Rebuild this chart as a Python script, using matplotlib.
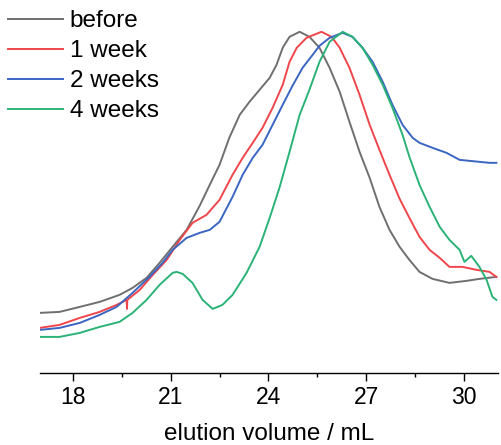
import matplotlib
matplotlib.use("Agg")
import matplotlib.pyplot as plt
from matplotlib.ticker import MultipleLocator

plt.rcParams["font.family"] = ["Liberation Sans", "DejaVu Sans"]

# elution volume (mL) and detector signal (a.u.)
vol_before = [16.98, 17.59, 18.21, 18.82, 19.43, 19.83, 20.26, 20.66, 21.06, 21.49,
              21.89, 22.20, 22.50, 22.80, 23.12, 23.42, 23.73, 24.04, 24.25, 24.44,
              24.65, 24.96, 25.26, 25.57, 25.88, 26.19, 26.49, 26.80, 27.11, 27.41,
              27.72, 28.03, 28.33, 28.64, 29.04, 29.56, 30.08, 30.48, 31.00]
sig_before = [60, 61, 66, 71, 78, 85, 95, 110, 126, 143,
              167, 188, 208, 235, 258, 271, 283, 295, 308, 325,
              336, 341, 336, 325, 305, 281, 251, 221, 195, 166,
              143, 126, 113, 101, 94, 90, 92, 94, 96]

vol_1w = [16.98, 17.59, 18.21, 18.82, 19.34, 19.65, 19.66, 19.67, 20.05, 20.45,
          20.88, 21.28, 21.67, 22.10, 22.50, 22.90, 23.21, 23.52, 23.82, 24.13,
          24.44, 24.65, 24.87, 25.17, 25.63, 25.94, 26.19, 26.49, 26.80, 27.11,
          27.41, 27.72, 28.03, 28.33, 28.64, 28.95, 29.26, 29.56, 29.96, 30.39,
          30.79, 31.00]
sig_1w = [45, 48, 55, 61, 68, 73, 64, 73, 83, 98,
          113, 133, 150, 158, 173, 198, 215, 230, 245, 265,
          288, 311, 325, 335, 341, 336, 325, 305, 278, 248,
          223, 198, 174, 155, 136, 123, 115, 106, 106, 103,
          101, 96]

vol_2w = [16.98, 17.59, 18.21, 18.82, 19.34, 19.83, 20.35, 20.75, 21.06, 21.49,
          21.89, 22.20, 22.50, 22.90, 23.21, 23.52, 23.82, 24.13, 24.44, 24.74,
          25.05, 25.36, 25.57, 25.88, 26.28, 26.58, 26.89, 27.20, 27.51, 27.81,
          28.12, 28.43, 28.64, 29.04, 29.47, 29.87, 30.17, 30.48, 30.79, 31.00]
sig_2w = [43, 45, 50, 58, 66, 80, 96, 110, 123, 135,
          140, 143, 151, 176, 198, 215, 228, 248, 268, 287,
          305, 318, 327, 335, 340, 336, 325, 311, 291, 268,
          248, 235, 230, 225, 220, 213, 212, 211, 210, 210]

vol_4w = [16.98, 17.59, 18.21, 18.82, 19.43, 19.83, 20.26, 20.66, 21.06, 21.18,
          21.37, 21.67, 21.98, 22.29, 22.59, 22.90, 23.33, 23.73, 24.04, 24.34,
          24.65, 24.96, 25.26, 25.57, 25.88, 26.28, 26.58, 26.89, 27.20, 27.51,
          27.81, 28.12, 28.33, 28.64, 28.95, 29.26, 29.56, 29.87, 30.02, 30.23,
          30.48, 30.70, 30.88, 31.00]
sig_4w = [36, 36, 40, 46, 51, 60, 73, 88, 100, 101,
          99, 90, 73, 64, 68, 78, 100, 126, 155, 185,
          221, 258, 283, 311, 331, 341, 336, 325, 308, 288,
          265, 238, 216, 188, 166, 146, 133, 123, 111, 117,
          106, 93, 76, 73]

labels = ["before", "1 week", "2 weeks", "4 weeks"]
colors = ["#6f6f6f", "#f0464b", "#3a66c2", "#2bb377"]

fig = plt.figure(figsize=(5.01, 4.45), dpi=100)
ax = fig.add_axes([0.0806, 0.162, 0.9134, 0.816])

series = [(vol_before, sig_before), (vol_1w, sig_1w), (vol_2w, sig_2w), (vol_4w, sig_4w)]
for (x, y), lab, c in zip(series, labels, colors):
    ax.plot(x, y, color=c, lw=1.4, label=lab)

ax.set_xlim(17, 31.05)
ax.set_ylim(0, 363)
ax.xaxis.set_major_locator(MultipleLocator(3))
ax.xaxis.set_minor_locator(MultipleLocator(1.5))
ax.tick_params(axis="x", which="major", length=6, width=1, labelsize=16.5, direction="out")
ax.tick_params(axis="x", which="minor", length=3, width=1, direction="out")
ax.set_yticks([])
for s in ["left", "top", "right"]:
    ax.spines[s].set_visible(False)
ax.spines["bottom"].set_linewidth(1)
ax.set_xlabel("elution volume / mL", fontsize=17.5, labelpad=10)

fig.legend(loc="upper left", bbox_to_anchor=(0.016, 0.977), frameon=False,
           fontsize=17.5, handlelength=2.26, handletextpad=0.28,
           labelspacing=0.33, borderpad=0, borderaxespad=0)

fig.savefig("out.png", dpi=100)
